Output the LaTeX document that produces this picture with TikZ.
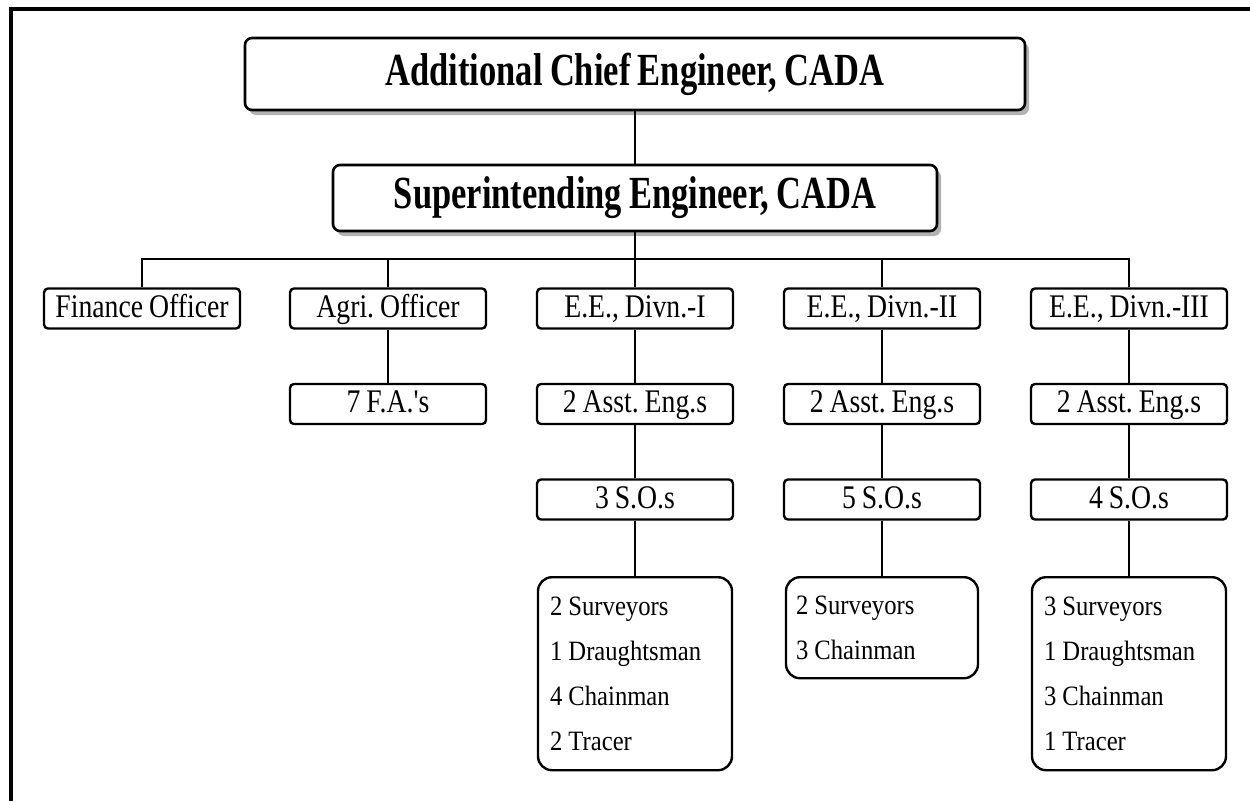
\documentclass[tikz,border=0pt]{standalone}
\usepackage{fontspec}
\setmainfont{Liberation Serif}
\newfontfamily\titlefont{Liberation Serif}[FakeStretch=0.75, WordSpace=0.85]
\newfontfamily\postfont{Liberation Serif}[FakeStretch=0.84, WordSpace=0.85]
\newfontfamily\stafffont{Liberation Serif}[FakeStretch=0.88, WordSpace=1.0]
\usetikzlibrary{shadows}
\frenchspacing

\tikzset{
  headbox/.style={draw, line width=2.6pt, rounded corners=7pt, fill=white,
    inner sep=0pt, font=\titlefont\bfseries\fontsize{46}{50}\selectfont,
    drop shadow={shadow xshift=4pt, shadow yshift=-5pt, fill=black, opacity=0.3}},
  postbox/.style={draw, line width=2.4pt, rounded corners=4pt, fill=white,
    minimum width=196pt, minimum height=40pt, inner sep=0pt,
    text height=25pt, text depth=8pt,
    font=\postfont\fontsize{33}{36}\selectfont},
  staffbox/.style={draw, line width=2.4pt, rounded corners=14pt, fill=white,
    anchor=north, align=flush left, inner ysep=0pt, inner xsep=12pt,
    text width=170pt, font=\stafffont\fontsize{28}{45}\selectfont},
  link/.style={line width=2.5pt},
}

\begin{document}
\begin{tikzpicture}[x=1pt, y=-1pt]
\useasboundingbox (0,0) rectangle (1250,801);

% outer frame (top and left edges)
\draw[line width=3.6pt] (11,801) -- (11,9) -- (1250,9);

% head offices
\node[headbox, minimum width=780pt, minimum height=72pt] (ace) at (635,74)
  {Additional Chief Engineer, CADA};
\node[headbox, minimum width=604pt, minimum height=66pt] (se) at (635,198)
  {Superintending Engineer, CADA};

% first level
\node[postbox] (fin)  at (142,308.5) {Finance Officer};
\node[postbox] (agri) at (388,308.5) {Agri. Officer};
\node[postbox] (ee1)  at (635,308.5) {E.E., Divn.-I};
\node[postbox] (ee2)  at (882,308.5) {E.E., Divn.-II};
\node[postbox] (ee3)  at (1129,308.5) {E.E., Divn.-III};

% second level
\node[postbox] (fa)   at (388,404) {7 F.A.'s};
\node[postbox] (ae1)  at (635,404) {2 Asst. Eng.s};
\node[postbox] (ae2)  at (882,404) {2 Asst. Eng.s};
\node[postbox] (ae3)  at (1129,404) {2 Asst. Eng.s};

% third level
\node[postbox] (so1)  at (635,499.5) {3 S.O.s};
\node[postbox] (so2)  at (882,499.5) {5 S.O.s};
\node[postbox] (so3)  at (1129,499.5) {4 S.O.s};

% field staff
\node[staffbox, minimum height=193pt] (st1) at (635,576)
  {2 Surveyors\\1 Draughtsman\\4 Chainman\\2 Tracer};
\node[staffbox, minimum height=101pt, text width=172pt, inner xsep=10pt] (st2) at (882,576)
  {2 Surveyors\\3 Chainman};
\node[staffbox, minimum height=193pt] (st3) at (1129,576)
  {3 Surveyors\\1 Draughtsman\\3 Chainman\\1 Tracer};

% connectors
\coordinate (bus) at (636,259);
\draw[link] (ace.south) -- (se.north);
\draw[link] (se.south) -- (ee1.north);
\draw[link] (fin.north) |- (bus) -| (ee3.north);
\draw[link] (agri.north) -- (agri.north |- bus);
\draw[link] (ee2.north) -- (ee2.north |- bus);
\draw[link] (agri.south) -- (fa.north);
\draw[link] (ee1.south) -- (ae1.north);
\draw[link] (ee2.south) -- (ae2.north);
\draw[link] (ee3.south) -- (ae3.north);
\draw[link] (ae1.south) -- (so1.north);
\draw[link] (ae2.south) -- (so2.north);
\draw[link] (ae3.south) -- (so3.north);
\draw[link] (so1.south) -- (st1.north);
\draw[link] (so2.south) -- (st2.north);
\draw[link] (so3.south) -- (st3.north);
\end{tikzpicture}
\end{document}
